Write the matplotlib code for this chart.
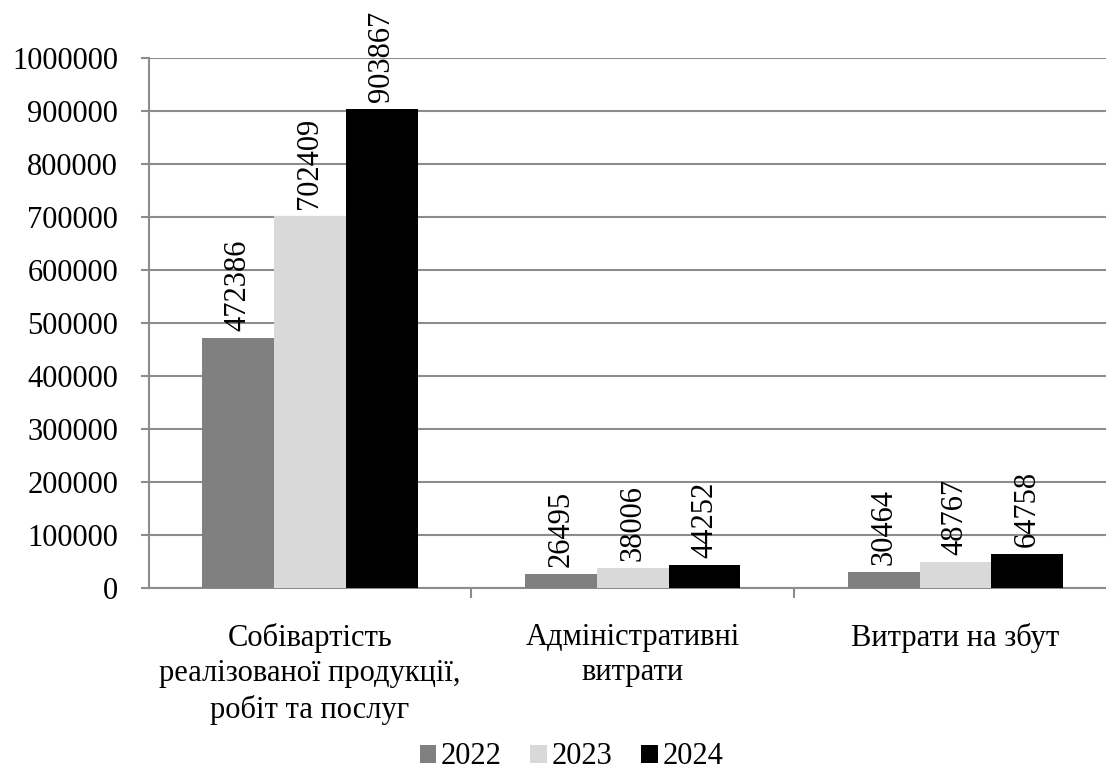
import matplotlib
matplotlib.use("Agg")
import matplotlib.pyplot as plt
import numpy as np

categories = ["Собівартість\nреалізованої продукції,\nробіт та послуг",
              "Адміністративні\nвитрати",
              "Витрати на збут"]
years = ["2022", "2023", "2024"]
values_2022 = [472386, 26495, 30464]
values_2023 = [702409, 38006, 48767]
values_2024 = [903867, 44252, 64758]
y_ticks = [0, 100000, 200000, 300000, 400000, 500000,
           600000, 700000, 800000, 900000, 1000000]

series = [values_2022, values_2023, values_2024]
colors = ["#808080", "#d9d9d9", "#000000"]

plt.rcParams["font.family"] = ["Liberation Serif", "DejaVu Serif"]
FS = 22
GRID = "#8c8c8c"

fig = plt.figure(figsize=(11.06, 7.72), dpi=100)
ax = fig.add_axes([0.1344, 0.2383, 0.8656, 0.6861])

x = np.arange(len(categories))
w = 1 / 4.5  # gap width 150 %
for i, (vals, col, yr) in enumerate(zip(series, colors, years)):
    pos = x + (i - 1) * w
    bars = ax.bar(pos, vals, width=w, color=col, label=yr, zorder=3,
                  linewidth=0)
    for b, v in zip(bars, vals):
        ax.annotate(str(v), (b.get_x() + b.get_width() / 2, v),
                    xytext=(0, 5), textcoords="offset points",
                    rotation=90, ha="center", va="bottom", fontsize=FS,
                    zorder=4)

ax.set_xlim(-0.5, -0.5 + 957.4 / 322.7)
ax.set_ylim(0, 1000000)
ax.set_yticks(y_ticks)
ax.set_yticklabels([str(t) for t in y_ticks], fontsize=FS)
ax.yaxis.grid(True, color=GRID, linewidth=1.5, zorder=0)
ax.set_axisbelow(True)

ax.set_xticks(x)
ax.set_xticklabels(categories, fontsize=FS, linespacing=1.3)
ax.set_xticks([0.5, 1.5], minor=True)
ax.tick_params(axis="x", which="major", length=0, pad=25)
ax.tick_params(axis="x", which="minor", length=7, width=1.5, color=GRID,
               direction="out")
ax.tick_params(axis="y", length=6, width=1.5, color=GRID, pad=16)

for s in ["top", "right"]:
    ax.spines[s].set_visible(False)
for s in ["left", "bottom"]:
    ax.spines[s].set_color(GRID)
    ax.spines[s].set_linewidth(1.5)

fig.legend(loc="center", bbox_to_anchor=(0.5167, 1 - 757 / 772),
           ncol=3, frameon=False, fontsize=FS, handlelength=0.54,
           handleheight=0.52, handletextpad=0.15, columnspacing=0.95,
           borderpad=0)

fig.savefig("out.png", dpi=100)
